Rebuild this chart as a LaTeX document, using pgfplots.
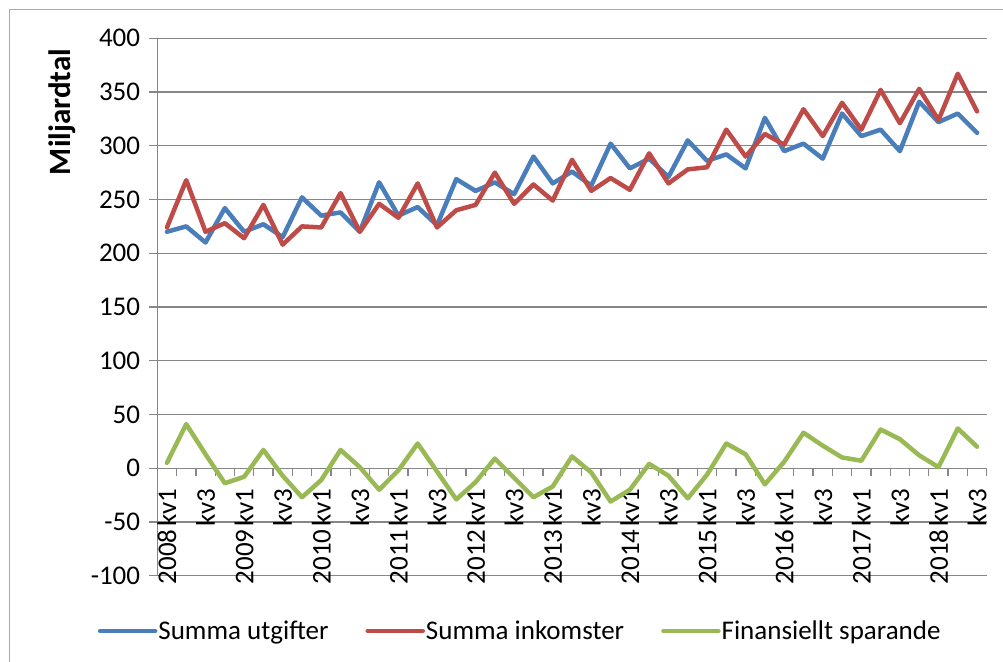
\documentclass[border=0pt]{standalone}
\usepackage{fontspec}
\setmainfont{Carlito}
\usepackage{pgfplots}
\pgfplotsset{compat=1.18}
\definecolor{cblue}{RGB}{74,126,187}
\definecolor{cred}{RGB}{190,75,72}
\definecolor{cgreen}{RGB}{152,185,84}
\definecolor{axgray}{RGB}{134,134,134}
\newcommand{\cf}{\fontsize{27bp}{32bp}\selectfont}
\newcommand{\yk}[1]{#1\hspace{3bp}kv1}
\pgfplotstableread{
i ut ink fin
0 220 224 5
1 225 268 41
2 210 220 13
3 242 228 -14
4 220 214 -8
5 227 245 17
6 215 208 -7
7 252 225 -27
8 235 224 -11
9 238 256 17
10 220 220 1
11 266 246 -20
12 235 233 -2
13 243 265 23
14 226 224 -3
15 269 240 -29
16 258 245 -13
17 266 275 9
18 255 246 -9
19 290 264 -27
20 265 249 -17
21 276 287 11
22 263 258 -4
23 302 270 -31
24 279 259 -20
25 288 293 4
26 271 265 -7
27 305 278 -28
28 286 280 -6
29 292 315 23
30 279 290 13
31 326 311 -15
32 295 301 6
33 302 334 33
34 288 309 21
35 330 340 10
36 309 315 7
37 315 352 36
38 295 321 27
39 341 353 12
40 322 324 1
41 330 367 37
42 312 332 20
}\data
\begin{document}
\begin{tikzpicture}
\useasboundingbox (-157.3bp,-86.3bp) rectangle (845.7bp,575.7bp);
\draw[color=axgray!70, line width=1bp] (-147.3bp,-95bp) |- (850bp,565.7bp);
\begin{axis}[
  scale only axis, width=829.4bp, height=537.4bp,
  xmin=-0.5, xmax=42.5, ymin=-100, ymax=400,
  axis y line=left, axis x line=middle,
  hide obscured x ticks=false, hide obscured y ticks=false,
  axis line style={-, draw=axgray, line width=1.3bp},
  ytick={-100,-50,...,400},
  ymajorgrids, grid style={draw=axgray, line width=1.3bp},
  ytick align=outside, xtick align=outside,
  major tick length=8bp, minor tick length=8bp,
  major y tick style={draw=axgray, line width=1.3bp},
  major x tick style={draw=none},
  minor x tick style={draw=axgray, line width=1.3bp},
  xtick={0,2,...,42},
  xticklabels={\yk{2008},kv3,\yk{2009},kv3,\yk{2010},kv3,\yk{2011},kv3,\yk{2012},kv3,\yk{2013},kv3,\yk{2014},kv3,\yk{2015},kv3,\yk{2016},kv3,\yk{2017},kv3,\yk{2018},kv3},
  minor xtick={-0.5,0.5,...,42.5},
  /pgf/number format/assume math mode=true,
  tick label style={font=\cf, text=black},
  x tick label style={yshift=-12bp, rotate=90, anchor=east, inner sep=0pt},
  y tick label style={inner sep=0pt, xshift=-9bp},
  ylabel={Miljardtal},
  ylabel style={font=\fontsize{31bp}{36bp}\selectfont\bfseries, at={(axis description cs:-0.1149,0.8629)}, anchor=center},
  legend style={at={(axis description cs:0.437,-0.1029)}, anchor=center, draw=none, fill=none,
    legend columns=3, font=\cf, cells={anchor=west}, nodes={inner sep=1bp},
    /tikz/every even column/.append style={column sep=36bp}},
  legend image code/.code={\draw[#1, line width=4.5bp, line cap=round] (0bp,0bp) -- (55bp,0bp);},
]
\addplot[cblue, line width=4.5bp, line join=round, line cap=round] table[x=i, y=ut] {\data};
\addlegendentry{Summa utgifter}
\addplot[cred, line width=4.5bp, line join=round, line cap=round] table[x=i, y=ink] {\data};
\addlegendentry{Summa inkomster}
\addplot[cgreen, line width=4.5bp, line join=round, line cap=round] table[x=i, y=fin] {\data};
\addlegendentry{Finansiellt sparande}
\end{axis}
\end{tikzpicture}
\end{document}
